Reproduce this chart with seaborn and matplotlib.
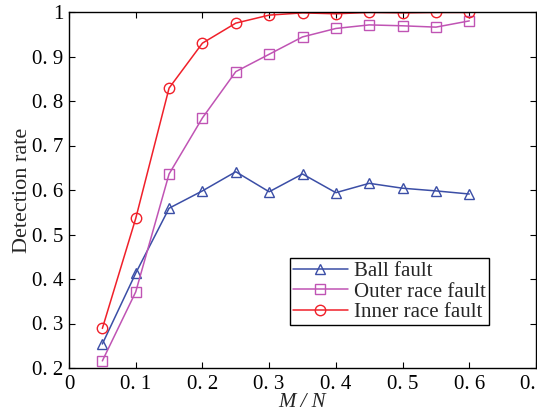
import matplotlib
matplotlib.use("Agg")
import matplotlib.pyplot as plt
import seaborn as sns
import pandas as pd

mn = [0.05, 0.10, 0.15, 0.20, 0.25, 0.30, 0.35, 0.40, 0.45, 0.50, 0.55, 0.60]
ball = [0.254, 0.413, 0.559, 0.598, 0.641, 0.596, 0.636, 0.594, 0.615, 0.604, 0.598, 0.591]
outer = [0.216, 0.371, 0.636, 0.762, 0.866, 0.905, 0.944, 0.963, 0.971, 0.969, 0.966, 0.980]
inner = [0.289, 0.536, 0.829, 0.930, 0.975, 0.993, 0.998, 0.996, 0.999, 0.998, 0.999, 0.999]

series_names = ["Ball fault", "Outer race fault", "Inner race fault"]
xticks = [0, 0.1, 0.2, 0.3, 0.4, 0.5, 0.6, 0.7]
xticklabels = ["0", "0. 1", "0. 2", "0. 3", "0. 4", "0. 5", "0. 6", "0. 7"]
yticks = [0.2, 0.3, 0.4, 0.5, 0.6, 0.7, 0.8, 0.9, 1.0]
yticklabels = ["0. 2", "0. 3", "0. 4", "0. 5", "0. 6", "0. 7", "0. 8", "0. 9", "1"]

sns.set_theme(style="ticks")
plt.rcParams["font.family"] = ["Liberation Serif", "DejaVu Serif"]

fig = plt.figure(figsize=(5.37, 4.18), dpi=100)
ax = fig.add_axes([69 / 537, 50 / 418, (536 - 69) / 537, (368 - 12) / 418])

styles = [
    (ball, "#3b4ea6", "^"),
    (outer, "#c054b4", "s"),
    (inner, "#f0202a", "o"),
]
for (vals, col, mk), name in zip(styles, series_names):
    df = pd.DataFrame({"M/N": mn, "rate": vals})
    sns.lineplot(data=df, x="M/N", y="rate", ax=ax, color=col, marker=mk,
                 markersize=7.5, markerfacecolor="none", markeredgecolor=col,
                 markeredgewidth=1.0, linewidth=1.1, label=name)

ax.set_xlim(0, 0.7)
ax.set_ylim(0.2, 1.0)
ax.set_xticks(xticks)
ax.set_xticklabels(xticklabels)
ax.set_yticks(yticks)
ax.set_yticklabels(yticklabels)
ax.tick_params(direction="in", top=True, right=True, labelsize=15, length=4, width=0.8,
               colors="black")
ax.tick_params(axis="y", pad=4)
ax.tick_params(axis="x", pad=5)
for s in ax.spines.values():
    s.set_linewidth(1.0)
    s.set_color("black")
ax.set_xlabel("M / N", fontsize=15, style="italic", labelpad=-1)
ax.set_ylabel("Detection rate", fontsize=16, labelpad=0)

leg = ax.legend(loc="lower right", bbox_to_anchor=(0.899, 0.12), fontsize=15,
                frameon=True, fancybox=False, edgecolor="black", framealpha=1,
                borderpad=0.15, labelspacing=0.05, handlelength=2.6, handletextpad=0.3,
                borderaxespad=0)
leg.get_frame().set_linewidth(1.0)

fig.savefig("out.png", dpi=100)
